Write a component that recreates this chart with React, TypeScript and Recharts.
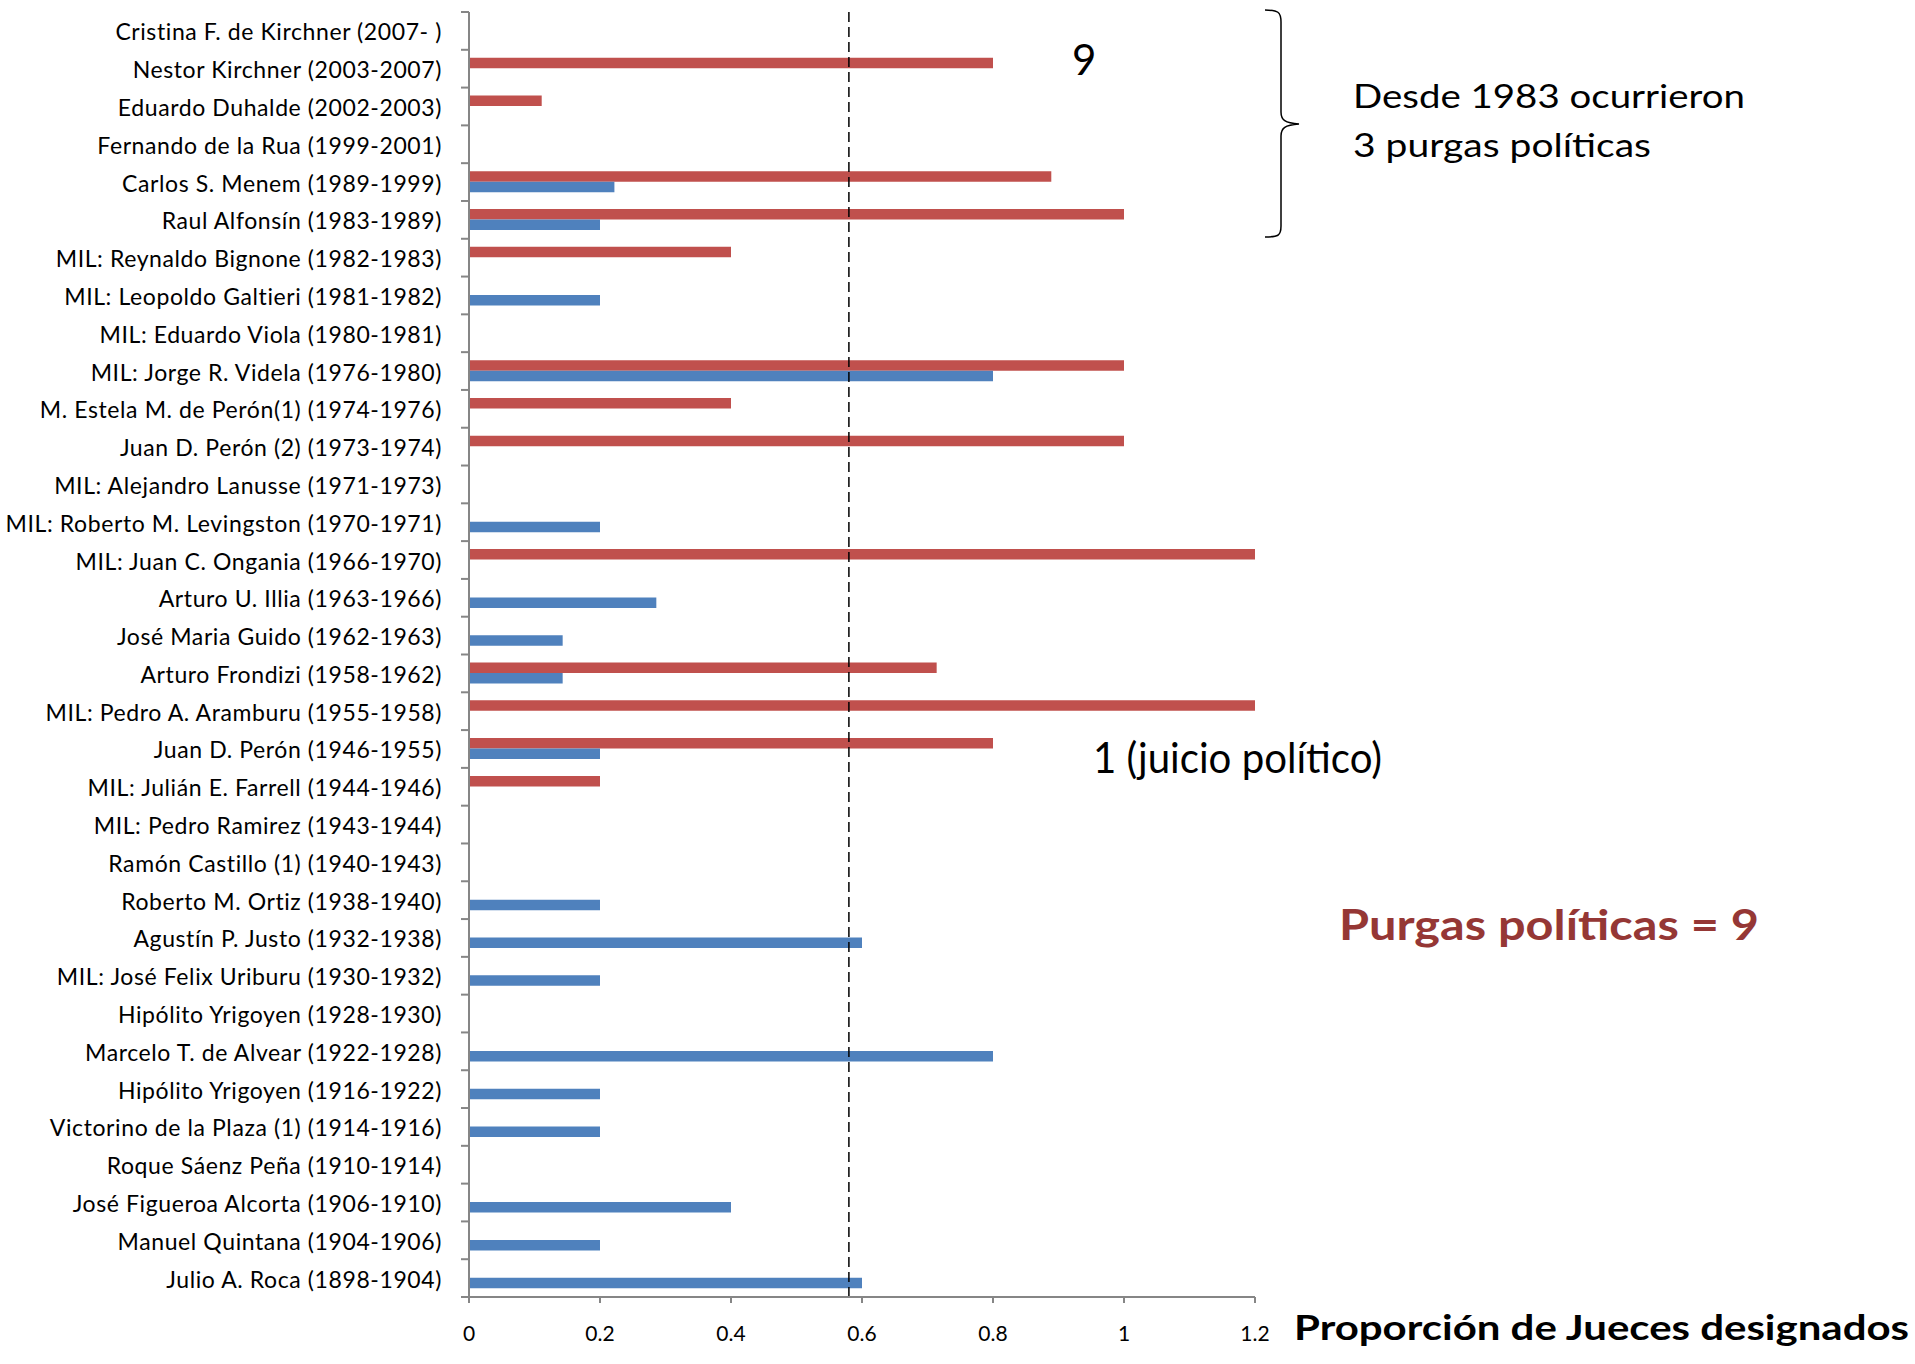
import { BarChart, Bar, XAxis, YAxis, ReferenceLine } from 'recharts';

// Presidencias, de arriba hacia abajo
const presidents = [
    'Cristina F. de Kirchner (2007- )',
    'Nestor Kirchner (2003-2007)',
    'Eduardo Duhalde (2002-2003)',
    'Fernando de la Rua (1999-2001)',
    'Carlos S. Menem (1989-1999)',
    'Raul Alfonsín (1983-1989)',
    'MIL: Reynaldo Bignone (1982-1983)',
    'MIL: Leopoldo Galtieri (1981-1982)',
    'MIL: Eduardo Viola (1980-1981)',
    'MIL: Jorge R. Videla (1976-1980)',
    'M. Estela M. de Perón(1) (1974-1976)',
    'Juan D. Perón (2) (1973-1974)',
    'MIL: Alejandro Lanusse (1971-1973)',
    'MIL: Roberto M. Levingston (1970-1971)',
    'MIL: Juan C. Ongania (1966-1970)',
    'Arturo U. Illia (1963-1966)',
    'José Maria Guido (1962-1963)',
    'Arturo Frondizi (1958-1962)',
    'MIL: Pedro A. Aramburu (1955-1958)',
    'Juan D. Perón (1946-1955)',
    'MIL: Julián E. Farrell (1944-1946)',
    'MIL: Pedro Ramirez (1943-1944)',
    'Ramón Castillo (1)  (1940-1943)',
    'Roberto M. Ortiz (1938-1940)',
    'Agustín P. Justo (1932-1938)',
    'MIL: José Felix Uriburu (1930-1932)',
    'Hipólito Yrigoyen (1928-1930)',
    'Marcelo T. de Alvear (1922-1928)',
    'Hipólito Yrigoyen (1916-1922)',
    'Victorino de la Plaza (1) (1914-1916)',
    'Roque Sáenz Peña (1910-1914)',
    'José Figueroa Alcorta (1906-1910)',
    'Manuel Quintana (1904-1906)',
    'Julio A. Roca (1898-1904)',
];

// red series
const removed = [
    0, 0.8, 0.111, 0, 0.889, 1, 0.4, 0, 0, 1, 0.4, 1, 0, 0, 1.2, 0, 0,
    0.714, 1.2, 0.8, 0.2, 0, 0, 0, 0, 0, 0, 0, 0, 0, 0, 0, 0, 0,
];

// blue series
const appointed = [
    0, 0, 0, 0, 0.222, 0.2, 0, 0.2, 0, 0.8, 0, 0, 0, 0.2, 0, 0.286, 0.143,
    0.143, 0, 0.2, 0, 0, 0, 0.2, 0.6, 0.2, 0, 0.8, 0.2, 0.2, 0, 0.4, 0.2, 0.6,
];

const xTicks = [0, 0.2, 0.4, 0.6, 0.8, 1, 1.2];
const AVERAGE = 0.58;

const W = 1915;
const H = 1364;
const PLOT_TOP = 12;
const PLOT_BOTTOM = 1297;
const AXIS_X = 469;
const BAND = (PLOT_BOTTOM - PLOT_TOP) / presidents.length;
const AXIS_GRAY = '#868686';
const FONT = 'Lato, "Open Sans", sans-serif';

const data = presidents.map((name, i) => ({
    name,
    removidos: removed[i],
    designados: appointed[i],
}));

function CategoryTick(props: any) {
    const { x, y, payload, index } = props;
    return (
        <g>
            <line x1={x + 19} x2={x + 27} y1={y - BAND / 2} y2={y - BAND / 2} stroke={AXIS_GRAY} strokeWidth={2} />
            {index === presidents.length - 1 && (
                <line x1={x + 19} x2={x + 27} y1={y + BAND / 2} y2={y + BAND / 2} stroke={AXIS_GRAY} strokeWidth={2} />
            )}
            <text x={x} y={y + 9.5} textAnchor="end" fill="#000" fontSize={23} letterSpacing={0.6} fontFamily={FONT}>
                {payload.value}
            </text>
        </g>
    );
}

function ValueTick(props: any) {
    const { x, payload } = props;
    return (
        <text x={x} y={1341} textAnchor="middle" fill="#000" fontSize={21} fontFamily={FONT}>
            {String(payload.value)}
        </text>
    );
}

export default function App() {
    return (
        <div style={{ position: 'absolute', left: 0, top: 0, width: W, height: H, background: '#fff' }}>
            <BarChart
                width={W}
                height={H}
                data={data}
                layout="vertical"
                margin={{ top: PLOT_TOP, right: W - 1255, bottom: 0, left: 0 }}
                barGap={0}
            >
                <XAxis
                    type="number"
                    domain={[0, 1.2]}
                    ticks={xTicks}
                    allowDataOverflow
                    height={H - PLOT_BOTTOM}
                    stroke={AXIS_GRAY}
                    axisLine={{ stroke: AXIS_GRAY, strokeWidth: 2 }}
                    tickLine={{ stroke: AXIS_GRAY, strokeWidth: 2 }}
                    tickSize={6}
                    tick={<ValueTick />}
                />
                <YAxis
                    type="category"
                    dataKey="name"
                    width={AXIS_X}
                    interval={0}
                    axisLine={{ stroke: AXIS_GRAY, strokeWidth: 2 }}
                    tickLine={false}
                    tickSize={8}
                    tickMargin={19}
                    tick={<CategoryTick />}
                />
                <Bar dataKey="removidos" fill="#C0504D" barSize={10.5} isAnimationActive={false} />
                <Bar dataKey="designados" fill="#4F81BD" barSize={10.5} isAnimationActive={false} />
                <ReferenceLine x={AVERAGE} stroke="#000" strokeWidth={1.5} strokeDasharray="10 5" />
            </BarChart>

            <svg
                width={W}
                height={H}
                style={{ position: 'absolute', left: 0, top: 0, pointerEvents: 'none' }}
            >
                {/* brace around the post-1983 presidencies */}
                <path
                    d="M 1265 10 C 1278 10, 1281 12, 1281 22 L 1281 112 C 1281 120, 1285 123, 1299 124 C 1285 125, 1281 128, 1281 136 L 1281 226 C 1281 236, 1278 237, 1265 237"
                    fill="none"
                    stroke="#000"
                    strokeWidth={1.5}
                />
                <text x={1072} y={75} fontSize={42} fontFamily={FONT} fill="#000">9</text>
                <text x={1353} y={108} fontSize={33} fontFamily={FONT} fill="#000" textLength={392} lengthAdjust="spacingAndGlyphs">
                    Desde 1983 ocurrieron
                </text>
                <text x={1353} y={157} fontSize={33} fontFamily={FONT} fill="#000" textLength={298} lengthAdjust="spacingAndGlyphs">
                    3 purgas políticas
                </text>
                <text x={1093} y={773} fontSize={42} fontFamily={FONT} fill="#000" textLength={289} lengthAdjust="spacingAndGlyphs">
                    1 (juicio político)
                </text>
                <text x={1339} y={940} fontSize={42} fontWeight="bold" fontFamily={FONT} fill="#953735" textLength={420} lengthAdjust="spacingAndGlyphs">
                    Purgas políticas = 9
                </text>
                <text x={1294} y={1340} fontSize={35} fontWeight="bold" fontFamily={FONT} fill="#000" textLength={615} lengthAdjust="spacingAndGlyphs">
                    Proporción de Jueces designados
                </text>
            </svg>
        </div>
    );
}
